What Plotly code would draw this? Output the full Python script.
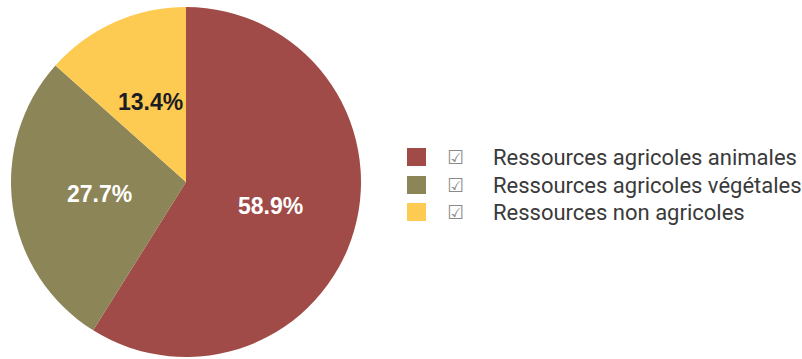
import math
import plotly.graph_objects as go

# Share of resources by origin
labels = ["Ressources agricoles animales", "Ressources agricoles végétales", "Ressources non agricoles"]
values = [58.9, 27.7, 13.4]
colors = ["#A04B47", "#8C8558", "#FECB52"]
text_colors = ["#FFFFFF", "#FFFFFF", "#1C1C24"]

W, H = 802, 359
# pie geometry in pixels (centre and radius)
CX, CY, R = 186, 182, 175

fig = go.Figure(go.Pie(
    labels=labels,
    values=values,
    sort=False,
    direction="clockwise",
    rotation=0,
    marker=dict(colors=colors, line=dict(width=0)),
    textinfo="none",
    domain=dict(x=[(CX - R) / W, (CX + R) / W], y=[(H - CY - R) / H, (H - CY + R) / H]),
    showlegend=False,
    hoverinfo="label+percent",
))

annotations = []
shapes = []

# Percentage labels placed at half radius along each slice's mid angle
total = sum(values)
cum = 0.0
for v, tc in zip(values, text_colors):
    mid = (cum + v / 2) / total * 2 * math.pi
    cum += v
    px = CX + 0.5 * R * math.sin(mid)
    py = CY - 0.5 * R * math.cos(mid)
    annotations.append(dict(x=px / W, y=1 - py / H, xref="paper", yref="paper",
                            text=f"<b>{v:.1f}%</b>", showarrow=False,
                            xanchor="center", yanchor="middle",
                            font=dict(family="Liberation Sans, Arial", size=23, color=tc)))

# Custom legend: colour square, check mark, label
row_y = [157, 185, 212]
for lab, col, yy in zip(labels, colors, row_y):
    shapes.append(dict(type="rect", xref="paper", yref="paper",
                       x0=407 / W, x1=426 / W,
                       y0=1 - (yy + 9) / H, y1=1 - (yy - 9) / H,
                       fillcolor=col, line=dict(width=0)))
    annotations.append(dict(x=455 / W, y=1 - yy / H, xref="paper", yref="paper",
                            text="☑", showarrow=False, xanchor="center", yanchor="middle",
                            font=dict(family="DejaVu Sans", size=19, color="#8A8A8A")))
    annotations.append(dict(x=491 / W, y=1 - yy / H, xref="paper", yref="paper",
                            text=lab, showarrow=False, xanchor="left", yanchor="middle",
                            font=dict(family="Roboto", size=22, color="#3A3A3A")))

fig.update_layout(
    width=W, height=H,
    margin=dict(l=0, r=0, t=0, b=0),
    paper_bgcolor="white",
    plot_bgcolor="white",
    shapes=shapes,
    annotations=annotations,
)

fig.write_html("out.html")
